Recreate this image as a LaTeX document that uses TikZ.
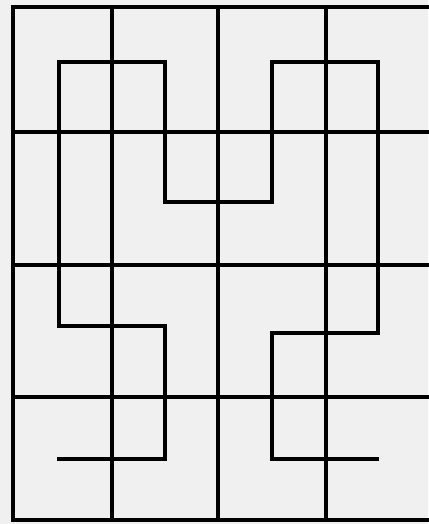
\documentclass[tikz,border=0pt]{standalone}
\usetikzlibrary{positioning}

\begin{document}
\begin{tikzpicture}[x=1pt, y=-1pt,
    gridline/.style={line width=3.6pt, black},
    curveline/.style={line width=3.6pt, black, line join=miter}]
    \fill[gray!12] (0,0) rectangle (428,524);
    \useasboundingbox (0,0) rectangle (428,524);
    % grid
    \foreach \x in {12.7,112,218,326}
      \draw[gridline] (\x,7) -- (\x,521);
    \foreach \y in {7,132,265,397,520}
      \draw[gridline] (11,\y) -- (430,\y);
    % curve
    \draw[curveline] (57,459) -- (165,459) -- (165,326) -- (59,326) -- (59,62)
      -- (165,62) -- (165,202) -- (272,202) -- (272,62) -- (378,62)
      -- (378,333) -- (272,333) -- (272,459) -- (379,459);
\end{tikzpicture}
\end{document}
